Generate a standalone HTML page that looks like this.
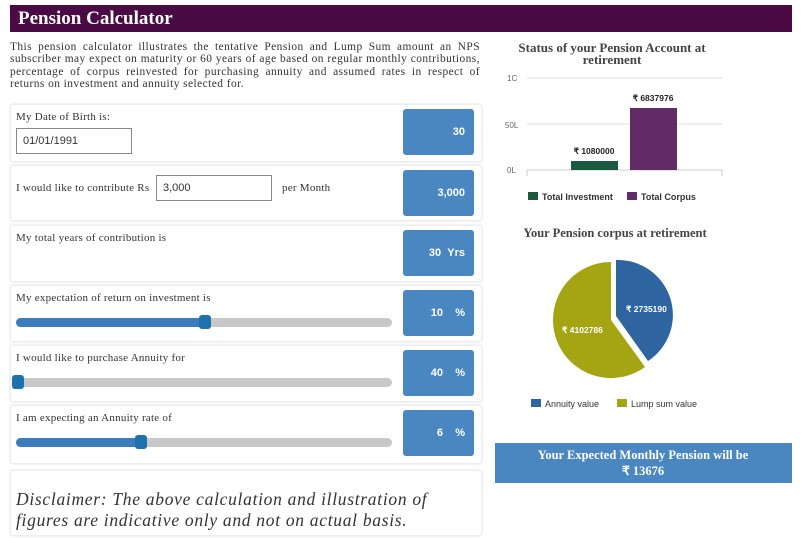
<!DOCTYPE html>
<html><head><style>
body{margin:0;width:807px;height:538px;background:#fff;font-family:"Liberation Serif",serif;position:relative;overflow:hidden;color:#333}
.abs{position:absolute}
.hdr{left:10px;top:5px;width:782px;height:27px;background:#4a0a44;color:#fff;font-size:19px;line-height:27px;padding-left:8px;box-sizing:border-box;font-weight:bold}
.intro{left:10px;top:41px;width:470px;font-size:11.4px;line-height:12.3px;text-align:justify;color:#333;letter-spacing:0.45px}
.row{left:10px;width:470px;border:1px solid #eee;border-radius:3px;background:#fff;box-shadow:0 0 2px #ddd}
.lbl{font-size:11px;left:5px;top:6px;letter-spacing:0.25px}
.box{left:392px;width:71px;height:46px;background:#4a86c0;border-radius:3px;color:#fff;font:bold 11px "Liberation Sans",sans-serif;text-align:right;box-sizing:border-box;padding-right:9px}
.trk{left:5px;width:376px;height:9px;background:#c8c8c8;border-radius:5px}
.fill{left:0;top:0;height:9px;background:#3b7dbb;border-radius:5px}
.th{width:12px;height:14px;background:#1d72ad;border-radius:3px;top:-3px}
.inp{border:1px solid #888;background:#fff;font:11px "Liberation Sans",sans-serif;padding-left:6px;box-sizing:border-box}
</style></head><body>
<div class="abs hdr">Pension Calculator</div>
<div class="abs intro">This pension calculator illustrates the tentative Pension and Lump Sum amount an NPS subscriber may expect on maturity or 60 years of age based on regular monthly contributions, percentage of corpus reinvested for purchasing annuity and assumed rates in respect of returns on investment and annuity selected for.</div>

<div class="abs row" style="top:104px;height:56px">
 <div class="abs lbl">My Date of Birth is:</div>
 <div class="abs inp" style="left:5px;top:23px;width:116px;height:26px;line-height:24px">01/01/1991</div>
 <div class="abs box" style="top:4px;line-height:46px">30</div>
</div>
<div class="abs row" style="top:165px;height:54px">
 <div class="abs lbl" style="top:16px">I would like to contribute Rs</div>
 <div class="abs inp" style="left:145px;top:9px;width:116px;height:26px;line-height:24px">3,000</div>
 <div class="abs lbl" style="left:271px;top:16px">per Month</div>
 <div class="abs box" style="top:4px;line-height:46px">3,000</div>
</div>
<div class="abs row" style="top:225px;height:55px">
 <div class="abs lbl">My total years of contribution is</div>
 <div class="abs box" style="top:4px;line-height:46px">30&nbsp;&nbsp;Yrs</div>
</div>
<div class="abs row" style="top:285px;height:55px">
 <div class="abs lbl">My expectation of return on investment is</div>
 <div class="abs trk" style="top:32px"><div class="abs fill" style="width:190px"></div><div class="abs th" style="left:183px"></div></div>
 <div class="abs box" style="top:4px;line-height:46px">10&nbsp;&nbsp;&nbsp;&nbsp;%</div>
</div>
<div class="abs row" style="top:345px;height:55px">
 <div class="abs lbl">I would like to purchase Annuity for</div>
 <div class="abs trk" style="top:32px"><div class="abs th" style="left:-4px"></div></div>
 <div class="abs box" style="top:4px;line-height:46px">40&nbsp;&nbsp;&nbsp;&nbsp;%</div>
</div>
<div class="abs row" style="top:405px;height:57px">
 <div class="abs lbl">I am expecting an Annuity rate of</div>
 <div class="abs trk" style="top:32px"><div class="abs fill" style="width:130px"></div><div class="abs th" style="left:119px"></div></div>
 <div class="abs box" style="top:4px;line-height:46px">6&nbsp;&nbsp;&nbsp;&nbsp;%</div>
</div>
<div class="abs row" style="top:470px;height:64px">
 <div class="abs" style="left:5px;top:18px;width:460px;font-size:17.5px;font-style:italic;line-height:21px;color:#333;letter-spacing:0.7px">Disclaimer: The above calculation and illustration of figures are indicative only and not on actual basis.</div>
</div>

<svg class="abs" style="left:0;top:0" width="807" height="538">
 <text x="612" y="52" font-size="13" font-weight="bold" fill="#444" text-anchor="middle" font-family="Liberation Serif">Status of your Pension Account at</text>
 <text x="612" y="64" font-size="13" font-weight="bold" fill="#444" text-anchor="middle" font-family="Liberation Serif">retirement</text>
 <g font-family="Liberation Sans" font-size="8" fill="#666">
  <text x="507" y="81">1C</text><text x="505" y="128">50L</text><text x="507" y="173">0L</text>
 </g>
 <line x1="527" y1="78" x2="722" y2="78" stroke="#ddd"/>
 <line x1="527" y1="124" x2="722" y2="124" stroke="#ddd"/>
 <line x1="527" y1="170" x2="722" y2="170" stroke="#ccc"/>
 <line x1="722" y1="170" x2="722" y2="176" stroke="#ccc"/><line x1="527" y1="170" x2="527" y2="176" stroke="#ccc"/>
 <rect x="571" y="161" width="47" height="9" fill="#1b5a40"/>
 <rect x="630" y="108" width="47" height="62" fill="#632a68"/>
 <g font-family="Liberation Sans" font-size="8.5" font-weight="bold" fill="#222" text-anchor="middle">
  <text x="594" y="154">₹ 1080000</text><text x="653" y="101">₹ 6837976</text>
 </g>
 <rect x="528" y="192" width="10" height="8" fill="#1b5a40"/>
 <text x="542" y="200" font-family="Liberation Sans" font-size="9" font-weight="bold" fill="#333">Total Investment</text>
 <rect x="627" y="192" width="10" height="8" fill="#632a68"/>
 <text x="641" y="200" font-family="Liberation Sans" font-size="9" font-weight="bold" fill="#333">Total Corpus</text>

 <text x="615" y="237" font-size="12.5" font-weight="bold" fill="#444" text-anchor="middle" font-family="Liberation Serif">Your Pension corpus at retirement</text>
 <path d="M611 320 L611 262 A58 58 0 1 0 645 367 Z" fill="#a5a513"/>
 <path d="M616 316 L616 260 A55 55 0 0 1 648 361 Z" fill="#2e64a0"/>
 <g font-family="Liberation Sans" font-size="8.5" font-weight="bold" fill="#fff">
  <text x="626" y="312">₹ 2735190</text><text x="562" y="333">₹ 4102786</text>
 </g>
 <rect x="531" y="399" width="10" height="8" fill="#2e64a0"/>
 <text x="545" y="407" font-family="Liberation Sans" font-size="9" fill="#333">Annuity value</text>
 <rect x="617" y="399" width="10" height="8" fill="#a5a513"/>
 <text x="631" y="407" font-family="Liberation Sans" font-size="9" fill="#333">Lump sum value</text>

 <rect x="495" y="443" width="297" height="40" fill="#4a86c0"/>
 <text x="643" y="459" font-size="12.5" font-weight="bold" fill="#fff" text-anchor="middle" font-family="Liberation Serif">Your Expected Monthly Pension will be</text>
 <text x="643" y="475" font-size="12.5" font-weight="bold" fill="#fff" text-anchor="middle" font-family="Liberation Serif">₹ 13676</text>
</svg>
</body></html>
